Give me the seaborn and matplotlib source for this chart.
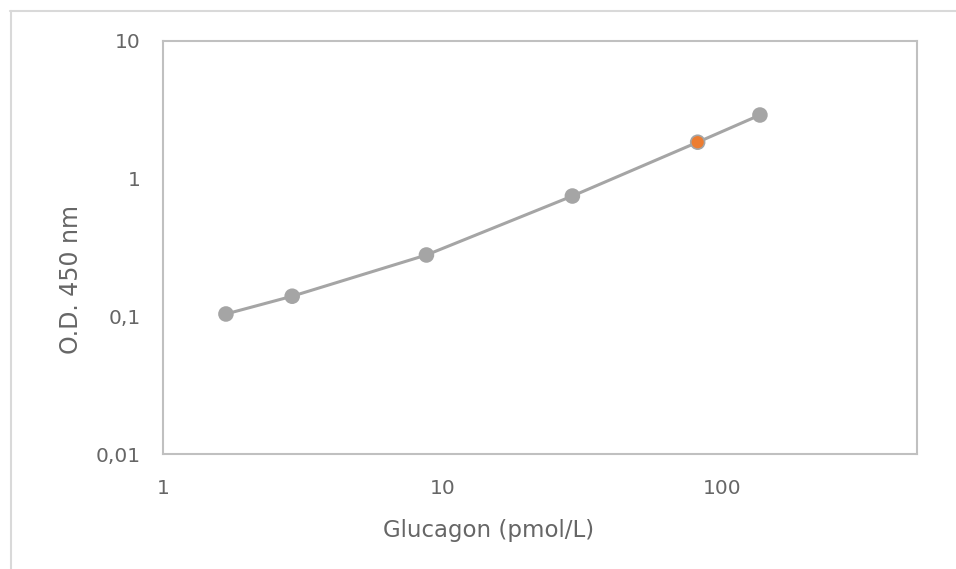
import matplotlib
matplotlib.use("Agg")
import matplotlib.pyplot as plt
import seaborn as sns
import pandas as pd
from matplotlib.ticker import FixedLocator, FixedFormatter, NullLocator
from matplotlib.lines import Line2D

glucagon = [1.68, 2.90, 8.77, 29.2, 82.0, 137.0]
od450 = [0.104, 0.140, 0.279, 0.748, 1.84, 2.90]
point_colors = ["#A5A5A5", "#A5A5A5", "#A5A5A5", "#A5A5A5", "#ED7D31", "#A5A5A5"]
x_ticks = [1, 10, 100]
x_labels = ["1", "10", "100"]
y_ticks = [0.01, 0.1, 1, 10]
y_labels = ["0,01", "0,1", "1", "10"]

sns.set_theme(style="white")
plt.rcParams['font.family'] = ['DejaVu Sans']

df = pd.DataFrame({"x": glucagon, "y": od450})

fig = plt.figure(figsize=(9.56, 5.69), dpi=100)
W, H = 956, 569
ax = fig.add_axes([163 / W, 1 - 454 / H, (917 - 163) / W, (454 - 41) / H])

sns.lineplot(data=df, x="x", y="y", ax=ax, color="#A5A5A5", linewidth=2.2, zorder=2)
ax.scatter(df["x"], df["y"], s=100, c=point_colors, edgecolors="#A5A5A5",
           linewidths=1.2, zorder=3)

ax.set_xscale("log")
ax.set_yscale("log")
ax.set_xlim(1, 500)
ax.set_ylim(0.01, 10)
ax.xaxis.set_major_locator(FixedLocator(x_ticks))
ax.xaxis.set_major_formatter(FixedFormatter(x_labels))
ax.xaxis.set_minor_locator(NullLocator())
ax.yaxis.set_major_locator(FixedLocator(y_ticks))
ax.yaxis.set_major_formatter(FixedFormatter(y_labels))
ax.yaxis.set_minor_locator(NullLocator())

ax.tick_params(axis="both", length=0, labelsize=14.5, colors="#666666")
ax.tick_params(axis="x", pad=18)
ax.tick_params(axis="y", pad=16)

for s in ax.spines.values():
    s.set_color("#C0C0C0")
    s.set_linewidth(1.5)

ax.set_xlabel("Glucagon (pmol/L)", fontsize=16.5, color="#666666")
ax.set_ylabel("O.D. 450 nm", fontsize=17, color="#666666")
ax.xaxis.set_label_coords((489 - 163) / 754, (454 - 519) / 413)
ax.yaxis.set_label_coords((83 - 163) / 754, (454 - 280) / 413)

# outer chart frame (partially cropped)
fig.add_artist(Line2D([10 / W, 1.0], [1 - 10.5 / H, 1 - 10.5 / H], color="#D9D9D9", lw=1.5, transform=fig.transFigure))
fig.add_artist(Line2D([10.5 / W, 10.5 / W], [0.0, 1 - 10.5 / H], color="#D9D9D9", lw=1.5, transform=fig.transFigure))

fig.savefig("out.png", dpi=100, facecolor="white")
